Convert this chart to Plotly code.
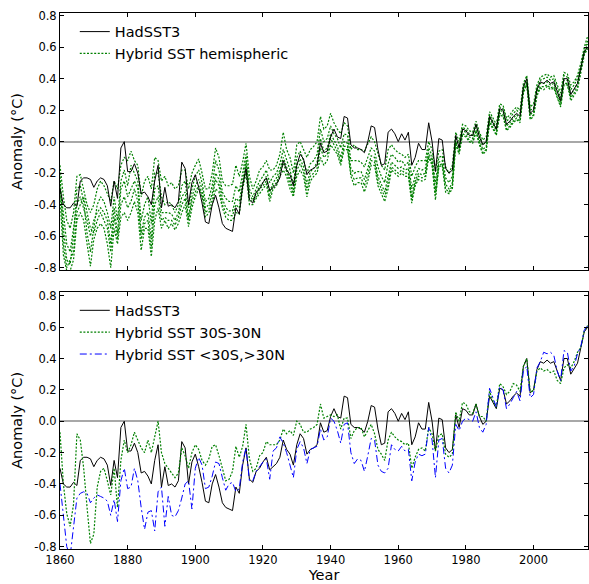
import plotly.graph_objects as go

years = list(range(1860, 2017))

hadsst3 = [
    -0.30, -0.40, -0.42, -0.42, -0.39, -0.41, -0.25, -0.23, -0.23, -0.24,
    -0.29, -0.25, -0.23, -0.24, -0.28, -0.41, -0.25, -0.36, -0.04, 0.00,
    -0.19, -0.19, -0.14, -0.20, -0.33, -0.32, -0.35, -0.40, -0.25, -0.15,
    -0.42, -0.29, -0.41, -0.40, -0.42, -0.38, -0.13, -0.17, -0.40, -0.26,
    -0.21, -0.29, -0.39, -0.51, -0.52, -0.40, -0.34, -0.42, -0.52, -0.55,
    -0.56, -0.57, -0.42, -0.46, -0.28, -0.17, -0.37, -0.39, -0.32, -0.30,
    -0.26, -0.23, -0.31, -0.29, -0.27, -0.23, -0.12, -0.18, -0.21, -0.28,
    -0.15, -0.08, -0.11, -0.21, -0.18, -0.17, -0.15, -0.01, -0.07, -0.06,
    0.03, 0.08, 0.03, 0.02, 0.16, 0.15, -0.02, -0.04, -0.04, -0.05,
    -0.07, 0.00, 0.10, 0.09, -0.05, -0.15, -0.14, 0.06, 0.08, 0.05,
    0.00, 0.05, 0.01, 0.06, -0.15, -0.10, -0.01, -0.05, -0.05, 0.12,
    0.00, -0.19, 0.02, 0.01, -0.17, -0.20, -0.18, 0.04, -0.04, 0.08,
    0.07, 0.04, 0.04, 0.11, 0.03, -0.02, 0.00, 0.16, 0.12, 0.08,
    0.21, 0.20, 0.11, 0.13, 0.16, 0.18, 0.16, 0.35, 0.40, 0.18,
    0.20, 0.33, 0.38, 0.37, 0.39, 0.37, 0.38, 0.32, 0.26, 0.40,
    0.40, 0.30, 0.34, 0.37, 0.47, 0.57, 0.60,
]

hybrid_30s_30n = [
    -0.07, -0.40, -0.59, -0.67, -0.53, -0.08, -0.12, -0.30, -0.55, -0.78,
    -0.72, -0.42, -0.32, -0.30, -0.38, -0.47, -0.30, -0.55, -0.25, -0.12,
    -0.20, -0.15, -0.07, -0.12, -0.17, -0.20, -0.12, -0.20, -0.10, 0.00,
    -0.20, -0.27, -0.30, -0.33, -0.36, -0.33, -0.17, -0.22, -0.30, -0.20,
    -0.15, -0.18, -0.25, -0.28, -0.24, -0.16, -0.15, -0.22, -0.30, -0.38,
    -0.37, -0.32, -0.16, -0.23, -0.16, -0.02, -0.24, -0.32, -0.30, -0.22,
    -0.20, -0.13, -0.15, -0.15, -0.15, -0.12, -0.05, -0.08, -0.06, -0.09,
    0.00, -0.02, -0.07, -0.07, -0.05, -0.04, -0.02, 0.11, 0.02, 0.03,
    0.04, 0.03, 0.04, -0.05, 0.02, 0.02, -0.11, -0.06, -0.04, -0.04,
    -0.10, -0.06, -0.02, -0.08, -0.18, -0.21, -0.25, -0.12, -0.07, -0.10,
    -0.12, -0.13, -0.15, -0.14, -0.30, -0.23, -0.18, -0.17, -0.19, -0.04,
    -0.08, -0.19, -0.09, -0.08, -0.21, -0.23, -0.21, 0.06, 0.00, 0.12,
    0.11, 0.06, 0.05, 0.11, 0.03, 0.03, 0.00, 0.19, 0.13, 0.09,
    0.24, 0.22, 0.17, 0.19, 0.24, 0.23, 0.19, 0.35, 0.40, 0.19,
    0.19, 0.32, 0.34, 0.32, 0.33, 0.31, 0.32, 0.26, 0.24, 0.34,
    0.36, 0.34, 0.38, 0.44, 0.47, 0.58, 0.61,
]

hybrid_extratropics = [
    -0.40, -0.62, -0.80, -0.86, -0.66, -0.49, -0.46, -0.45, -0.46, -0.52,
    -0.49, -0.47, -0.48, -0.49, -0.51, -0.60, -0.50, -0.64, -0.38, -0.30,
    -0.43, -0.42, -0.30, -0.38, -0.55, -0.69, -0.58, -0.57, -0.70, -0.45,
    -0.42, -0.67, -0.48, -0.60, -0.61, -0.57, -0.49, -0.40, -0.38, -0.56,
    -0.30, -0.23, -0.28, -0.43, -0.42, -0.35, -0.26, -0.27, -0.36, -0.44,
    -0.40, -0.39, -0.45, -0.43, -0.26, -0.17, -0.38, -0.38, -0.32, -0.29,
    -0.26, -0.24, -0.37, -0.19, -0.17, -0.10, -0.14, -0.20, -0.28, -0.36,
    -0.18, -0.13, -0.17, -0.27, -0.18, -0.17, -0.16, -0.05, -0.12, -0.10,
    0.02, 0.00, -0.06, -0.14, -0.02, -0.01, -0.20, -0.27, -0.24, -0.25,
    -0.32, -0.22, -0.11, -0.12, -0.28, -0.32, -0.33, -0.30, -0.15, -0.18,
    -0.19, -0.16, -0.19, -0.18, -0.38, -0.26, -0.21, -0.22, -0.21, -0.04,
    -0.12, -0.36, -0.12, -0.11, -0.30, -0.33, -0.28, -0.02, -0.06, 0.00,
    0.02, 0.01, 0.00, 0.06, -0.04, -0.07, -0.02, 0.21, 0.15, 0.09,
    0.22, 0.20, 0.08, 0.11, 0.15, 0.19, 0.13, 0.32, 0.35, 0.15,
    0.17, 0.34, 0.38, 0.44, 0.43, 0.44, 0.42, 0.32, 0.26, 0.45,
    0.44, 0.32, 0.35, 0.43, 0.48, 0.58, 0.61,
]

hemispheric_a = [
    -0.15, -0.35, -0.50, -0.55, -0.45, -0.22, -0.21, -0.30, -0.40, -0.45,
    -0.40, -0.30, -0.25, -0.28, -0.33, -0.38, -0.25, -0.30, -0.15, -0.10,
    -0.12, -0.06, -0.12, -0.15, -0.35, -0.25, -0.22, -0.30, -0.10, -0.12,
    -0.25, -0.22, -0.28, -0.26, -0.30, -0.28, -0.18, -0.18, -0.30, -0.20,
    -0.15, -0.11, -0.20, -0.30, -0.30, -0.20, -0.04, -0.10, -0.25, -0.28,
    -0.28, -0.27, -0.15, -0.22, -0.13, -0.01, -0.22, -0.30, -0.25, -0.18,
    -0.16, -0.12, -0.18, -0.18, -0.15, -0.08, 0.06, -0.05, -0.10, -0.20,
    -0.02, 0.00, -0.05, -0.10, -0.05, -0.03, 0.00, 0.16, 0.08, 0.10,
    0.18, 0.12, 0.08, 0.05, 0.12, 0.10, -0.05, -0.02, -0.05, -0.05,
    -0.06, -0.02, 0.03, 0.00, -0.08, -0.15, -0.18, -0.05, -0.02, -0.05,
    -0.07, -0.08, -0.10, -0.08, -0.22, -0.16, -0.12, -0.12, -0.12, 0.00,
    -0.05, -0.18, -0.06, -0.05, -0.16, -0.20, -0.15, 0.06, 0.00, 0.11,
    0.10, 0.07, 0.06, 0.13, 0.06, 0.01, 0.03, 0.19, 0.15, 0.11,
    0.24, 0.23, 0.15, 0.17, 0.20, 0.22, 0.20, 0.37, 0.42, 0.22,
    0.24, 0.36, 0.41, 0.42, 0.43, 0.41, 0.42, 0.36, 0.31, 0.44,
    0.43, 0.36, 0.38, 0.42, 0.50, 0.60, 0.67,
]

hemispheric_b = [
    -0.25, -0.55, -0.75, -0.78, -0.60, -0.30, -0.28, -0.38, -0.58, -0.70,
    -0.55, -0.40, -0.35, -0.38, -0.45, -0.55, -0.35, -0.50, -0.25, -0.18,
    -0.28, -0.15, -0.20, -0.25, -0.50, -0.40, -0.35, -0.52, -0.20, -0.20,
    -0.35, -0.40, -0.38, -0.40, -0.45, -0.40, -0.28, -0.25, -0.42, -0.30,
    -0.22, -0.18, -0.26, -0.38, -0.36, -0.28, -0.12, -0.18, -0.32, -0.36,
    -0.38, -0.38, -0.28, -0.32, -0.20, -0.08, -0.30, -0.35, -0.30, -0.25,
    -0.22, -0.18, -0.26, -0.22, -0.20, -0.14, -0.05, -0.12, -0.18, -0.27,
    -0.10, -0.06, -0.12, -0.20, -0.14, -0.12, -0.08, 0.08, 0.00, 0.02,
    0.10, 0.05, 0.02, -0.04, 0.05, 0.04, -0.12, -0.12, -0.12, -0.13,
    -0.16, -0.10, -0.04, -0.06, -0.16, -0.22, -0.26, -0.14, -0.08, -0.10,
    -0.13, -0.12, -0.15, -0.13, -0.30, -0.22, -0.17, -0.18, -0.17, -0.04,
    -0.09, -0.26, -0.10, -0.09, -0.23, -0.26, -0.22, 0.03, -0.03, 0.09,
    0.08, 0.05, 0.04, 0.11, 0.04, -0.02, 0.00, 0.17, 0.13, 0.09,
    0.22, 0.21, 0.13, 0.15, 0.18, 0.20, 0.18, 0.35, 0.40, 0.20,
    0.21, 0.34, 0.39, 0.40, 0.41, 0.39, 0.40, 0.34, 0.28, 0.42,
    0.41, 0.33, 0.36, 0.40, 0.48, 0.58, 0.64,
]

hemispheric_c = [
    -0.30, -0.45, -0.65, -0.70, -0.55, -0.40, -0.35, -0.42, -0.50, -0.60,
    -0.50, -0.45, -0.42, -0.45, -0.50, -0.65, -0.42, -0.58, -0.30, -0.25,
    -0.35, -0.30, -0.25, -0.30, -0.58, -0.48, -0.45, -0.62, -0.30, -0.28,
    -0.45, -0.45, -0.45, -0.46, -0.50, -0.45, -0.35, -0.32, -0.48, -0.35,
    -0.28, -0.24, -0.30, -0.42, -0.40, -0.33, -0.20, -0.24, -0.36, -0.42,
    -0.44, -0.44, -0.36, -0.38, -0.24, -0.12, -0.34, -0.37, -0.33, -0.28,
    -0.26, -0.22, -0.32, -0.26, -0.23, -0.18, -0.10, -0.16, -0.24, -0.31,
    -0.15, -0.11, -0.16, -0.27, -0.19, -0.17, -0.13, 0.02, -0.06, -0.04,
    0.05, 0.01, -0.03, -0.10, 0.00, -0.01, -0.17, -0.20, -0.19, -0.19,
    -0.24, -0.17, -0.09, -0.10, -0.22, -0.27, -0.32, -0.22, -0.13, -0.15,
    -0.17, -0.16, -0.18, -0.17, -0.35, -0.25, -0.20, -0.21, -0.20, -0.07,
    -0.12, -0.31, -0.13, -0.12, -0.27, -0.30, -0.26, 0.00, -0.05, 0.07,
    0.06, 0.03, 0.02, 0.09, 0.01, -0.05, -0.03, 0.15, 0.11, 0.07,
    0.20, 0.19, 0.10, 0.12, 0.15, 0.17, 0.15, 0.33, 0.38, 0.17,
    0.19, 0.32, 0.37, 0.37, 0.38, 0.36, 0.37, 0.31, 0.25, 0.39,
    0.39, 0.30, 0.33, 0.37, 0.46, 0.57, 0.62,
]

hemispheric_d = [
    -0.20, -0.65, -0.80, -0.75, -0.70, -0.45, -0.40, -0.35, -0.45, -0.55,
    -0.58, -0.50, -0.45, -0.50, -0.55, -0.70, -0.48, -0.62, -0.40, -0.35,
    -0.42, -0.38, -0.30, -0.38, -0.62, -0.52, -0.50, -0.68, -0.40, -0.35,
    -0.50, -0.48, -0.50, -0.50, -0.53, -0.48, -0.40, -0.36, -0.50, -0.38,
    -0.32, -0.28, -0.33, -0.45, -0.43, -0.36, -0.24, -0.28, -0.40, -0.45,
    -0.47, -0.47, -0.40, -0.42, -0.27, -0.15, -0.37, -0.38, -0.35, -0.30,
    -0.28, -0.25, -0.35, -0.28, -0.26, -0.20, -0.14, -0.19, -0.27, -0.33,
    -0.18, -0.14, -0.19, -0.31, -0.22, -0.20, -0.17, -0.04, -0.10, -0.08,
    0.02, -0.02, -0.06, -0.13, -0.03, -0.03, -0.20, -0.24, -0.23, -0.23,
    -0.28, -0.21, -0.12, -0.13, -0.25, -0.30, -0.35, -0.26, -0.16, -0.18,
    -0.20, -0.18, -0.20, -0.20, -0.37, -0.27, -0.22, -0.23, -0.22, -0.09,
    -0.14, -0.34, -0.15, -0.14, -0.30, -0.32, -0.28, -0.01, -0.07, 0.05,
    0.04, 0.01, 0.00, 0.07, -0.01, -0.07, -0.05, 0.13, 0.09, 0.05,
    0.18, 0.17, 0.08, 0.10, 0.13, 0.15, 0.13, 0.32, 0.37, 0.15,
    0.17, 0.30, 0.35, 0.35, 0.36, 0.34, 0.35, 0.29, 0.23, 0.37,
    0.37, 0.28, 0.31, 0.35, 0.45, 0.56, 0.60,
]

hemispheric_e = [
    -0.35, -0.72, -0.82, -0.82, -0.75, -0.50, -0.45, -0.50, -0.65, -0.79,
    -0.62, -0.55, -0.52, -0.55, -0.65, -0.80, -0.55, -0.65, -0.48, -0.45,
    -0.50, -0.45, -0.38, -0.45, -0.69, -0.55, -0.55, -0.73, -0.50, -0.42,
    -0.55, -0.50, -0.55, -0.52, -0.56, -0.52, -0.45, -0.40, -0.54, -0.42,
    -0.35, -0.30, -0.35, -0.48, -0.45, -0.40, -0.30, -0.32, -0.42, -0.48,
    -0.50, -0.50, -0.45, -0.46, -0.30, -0.20, -0.40, -0.40, -0.36, -0.33,
    -0.30, -0.27, -0.38, -0.30, -0.28, -0.22, -0.18, -0.22, -0.30, -0.35,
    -0.22, -0.18, -0.22, -0.35, -0.25, -0.22, -0.20, -0.10, -0.15, -0.12,
    -0.02, -0.05, -0.08, -0.15, -0.05, -0.05, -0.22, -0.28, -0.26, -0.26,
    -0.32, -0.25, -0.15, -0.15, -0.28, -0.33, -0.38, -0.30, -0.18, -0.20,
    -0.22, -0.20, -0.22, -0.22, -0.39, -0.28, -0.24, -0.25, -0.24, -0.10,
    -0.15, -0.37, -0.16, -0.15, -0.32, -0.33, -0.30, -0.02, -0.08, 0.04,
    0.03, 0.00, -0.01, 0.06, -0.02, -0.08, -0.06, 0.12, 0.08, 0.04,
    0.17, 0.16, 0.07, 0.09, 0.12, 0.14, 0.12, 0.31, 0.36, 0.14,
    0.16, 0.29, 0.34, 0.33, 0.35, 0.33, 0.34, 0.28, 0.22, 0.36,
    0.36, 0.26, 0.30, 0.33, 0.44, 0.55, 0.59,
]

hemispheric_members = [hemispheric_a, hemispheric_b, hemispheric_c,
                       hemispheric_d, hemispheric_e]

xtick_vals = [1860, 1880, 1900, 1920, 1940, 1960, 1980, 2000]
xtick_text = ["1860", "1880", "1900", "1920", "1940", "1960", "1980", "2000"]
ytick_vals = [0.8, 0.6, 0.4, 0.2, 0.0, -0.2, -0.4, -0.6, -0.8]
ytick_text = ["0.8", "0.6", "0.4", "0.2", "0.0", "-0.2", "-0.4", "-0.6", "-0.8"]

FONT = "DejaVu Sans"
GREEN = "#008000"
BLUE = "#0000ff"

fig = go.Figure()

# Top panel
for i, m in enumerate(hemispheric_members):
    fig.add_trace(go.Scatter(
        x=years, y=m, mode="lines", name="Hybrid SST hemispheric",
        line=dict(color=GREEN, width=1.2, dash="2px,1.6px"),
        showlegend=(i == 0), legendgroup="hem", legend="legend",
        xaxis="x", yaxis="y"))
fig.add_trace(go.Scatter(
    x=years, y=hadsst3, mode="lines", name="HadSST3",
    line=dict(color="black", width=1), legend="legend",
    xaxis="x", yaxis="y"))

# Bottom panel
fig.add_trace(go.Scatter(
    x=years, y=hadsst3, mode="lines", name="HadSST3",
    line=dict(color="black", width=1), legend="legend2",
    xaxis="x2", yaxis="y2"))
fig.add_trace(go.Scatter(
    x=years, y=hybrid_30s_30n, mode="lines", name="Hybrid SST 30S-30N",
    line=dict(color=GREEN, width=1.2, dash="2px,1.6px"), legend="legend2",
    xaxis="x2", yaxis="y2"))
fig.add_trace(go.Scatter(
    x=years, y=hybrid_extratropics, mode="lines", name="Hybrid SST <30S,>30N",
    line=dict(color=BLUE, width=1, dash="7px,3px,2px,3px"), legend="legend2",
    xaxis="x2", yaxis="y2"))

axis_common = dict(
    showline=True, linecolor="black", linewidth=1, mirror="ticks",
    ticks="inside", ticklen=4, tickwidth=1, tickcolor="black",
    showgrid=False, automargin=False,
    tickfont=dict(family=FONT, size=11.5, color="black"),
)

top_dom = [0.5205, 1.0]
bot_dom = [0.0, 0.48]

fig.update_layout(
    width=589, height=584,
    margin=dict(l=60, r=1, t=13, b=35),
    paper_bgcolor="white", plot_bgcolor="white",
    font=dict(family=FONT, color="black"),
    xaxis=dict(domain=[0, 1], anchor="y", range=[1860, 2016.1],
               tickvals=xtick_vals, showticklabels=False, zeroline=False,
               **axis_common),
    yaxis=dict(domain=top_dom, anchor="x", range=[-0.815, 0.817],
               tickvals=ytick_vals, ticktext=ytick_text,
               zeroline=True, zerolinecolor="#a8a8a8", zerolinewidth=1.5,
               title=dict(text="Anomaly (°C)", standoff=8,
                          font=dict(family=FONT, size=14.5)),
               **axis_common),
    xaxis2=dict(domain=[0, 1], anchor="y2", range=[1860, 2016.1],
                matches="x",
                tickvals=xtick_vals, ticktext=xtick_text, zeroline=False,
                title=dict(text="Year", standoff=4,
                           font=dict(family=FONT, size=14.5)),
                **axis_common),
    yaxis2=dict(domain=bot_dom, anchor="x2", range=[-0.815, 0.826],
                tickvals=ytick_vals, ticktext=ytick_text,
                zeroline=True, zerolinecolor="#a8a8a8", zerolinewidth=1.5,
                title=dict(text="Anomaly (°C)", standoff=8,
                           font=dict(family=FONT, size=14.5)),
                **axis_common),
    legend=dict(x=0.028, y=0.995, xanchor="left", yanchor="top",
                bgcolor="rgba(0,0,0,0)", traceorder="reversed",
                font=dict(family=FONT, size=14.5), tracegroupgap=0),
    legend2=dict(x=0.028, y=0.475, xanchor="left", yanchor="top",
                 bgcolor="rgba(0,0,0,0)", traceorder="normal",
                 font=dict(family=FONT, size=14.5), tracegroupgap=0),
)

fig.write_html(
    "out.html",
    config={"displayModeBar": False},
    post_script="document.body.style.margin='0';"
                "document.body.style.overflow='hidden';")
